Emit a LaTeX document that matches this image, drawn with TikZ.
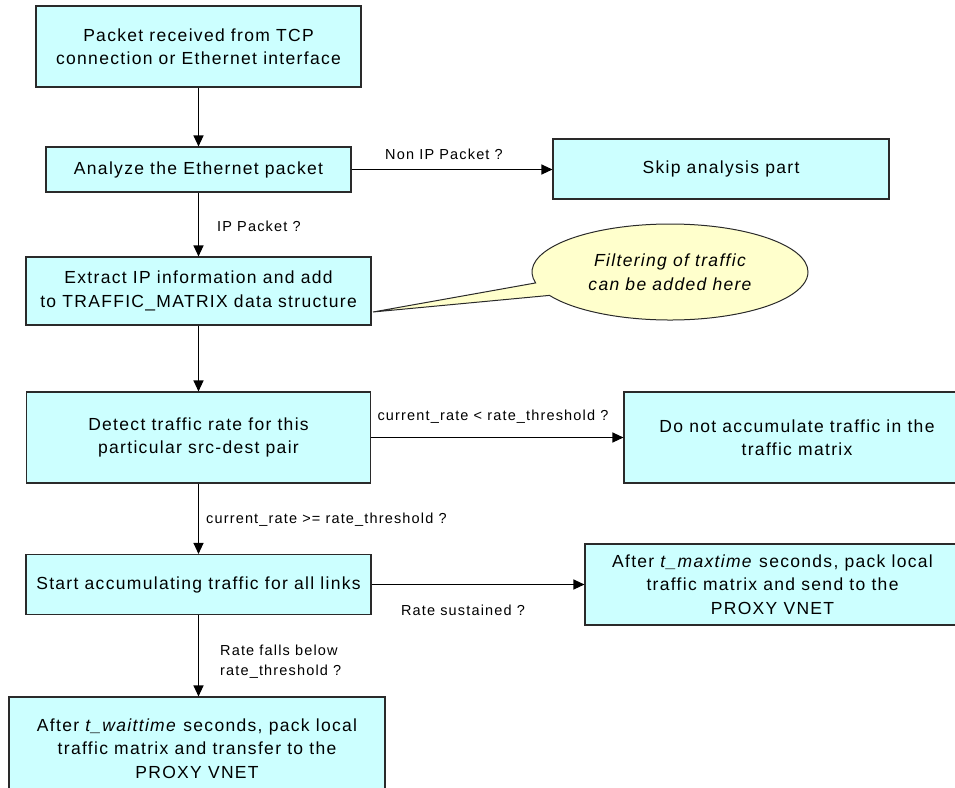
\documentclass[tikz,border=0pt]{standalone}
\usepackage{fontspec}
\setmainfont{Liberation Sans}
\usetikzlibrary{arrows.meta,shapes.callouts,shapes.geometric}
\definecolor{boxfill}{HTML}{CCFFFF}
\definecolor{notefill}{HTML}{FFFFCC}
\definecolor{edgecol}{HTML}{2A2A2A}
\newcommand\myboxfont{\fontsize{17.5}{23.5}\selectfont\addfontfeature{LetterSpace=7.5}}
\newcommand\mylblfont{\fontsize{14.5}{20}\selectfont\addfontfeature{LetterSpace=8}}
\begin{document}
\begin{tikzpicture}[x=1pt,y=-1pt,
  flowbox/.style={draw=edgecol, line width=1.1pt, fill=boxfill, align=center, inner sep=0pt, font=\myboxfont},
  lbl/.style={inner sep=0pt, font=\mylblfont},
  flow/.style={draw=black, line width=1.1pt, -{Triangle[length=11pt,width=10pt]}}]
\useasboundingbox (0,0) rectangle (955,787);

\node[flowbox, minimum width=325pt, minimum height=81pt] (b1) at (198.5,46.5) {Packet received from TCP\\connection or Ethernet interface};
\node[flowbox, minimum width=305pt, minimum height=45pt] (b2) at (198.5,169.5) {Analyze the Ethernet packet};
\node[flowbox, minimum width=336pt, minimum height=60pt] (skip) at (721,169) {Skip analysis part};
\node[flowbox, minimum width=345pt, minimum height=68pt] (b3) at (198.5,291) {Extract IP information and add\\to TRAFFIC\_MATRIX data structure};
\node[flowbox, minimum width=344pt, minimum height=91pt] (b4) at (198.5,437.5) {Detect traffic rate for this\\particular src-dest pair};
\node[flowbox, minimum width=346pt, minimum height=91pt] (b5) at (797,437.5) {Do not accumulate traffic in the\\traffic matrix};
\node[flowbox, minimum width=345pt, minimum height=60pt] (b6) at (198.5,584.5) {Start accumulating traffic for all links};
\node[flowbox, minimum width=375pt, minimum height=81pt] (b7) at (772.5,584.5) {After \textit{t\_maxtime} seconds, pack local\\traffic matrix and send to the\\PROXY VNET};
\node[flowbox, minimum width=376pt, minimum height=103pt] (b8) at (197,748.5) {After \textit{t\_waittime} seconds, pack local\\traffic matrix and transfer to the\\PROXY VNET};

\node[ellipse callout, draw=edgecol, line width=1pt, fill=notefill, minimum width=276pt, minimum height=96pt,
  callout absolute pointer={(373,312)}, callout pointer arc=16, inner sep=0pt, align=center,
  font=\myboxfont\itshape] (note) at (670,272) {Filtering of traffic\\can be added here};

\draw[flow] (b1.south) -- (b2.north);
\draw[flow] (b2.south) -- (b3.north);
\draw[flow] (b2.east) -- (b2.east -| skip.west);
\draw[flow] (b3.south) -- (b4.north);
\draw[flow] (b4.east) -- (b4.east -| b5.west);
\draw[flow] (b4.south) -- (b6.north);
\draw[flow] (b6.east) -- (b6.east -| b7.west);
\draw[flow] (b6.south) -- (b6.south |- b8.north);

\node[lbl] (l1) at (444,154) {Non IP Packet ?};
\node[lbl, anchor=west] (l2) at (217,226) {IP Packet ?};
\node[lbl] (l3) at (493,417) {current\_rate < rate\_threshold ?};
\node[lbl, anchor=west] (l4) at (206,520) {current\_rate >= rate\_threshold ?};
\node[lbl] (l5) at (463,610) {Rate sustained ?};
\node[lbl, anchor=west, align=left] (l6) at (220,662) {Rate falls below\\rate\_threshold ?};
\end{tikzpicture}
\end{document}
